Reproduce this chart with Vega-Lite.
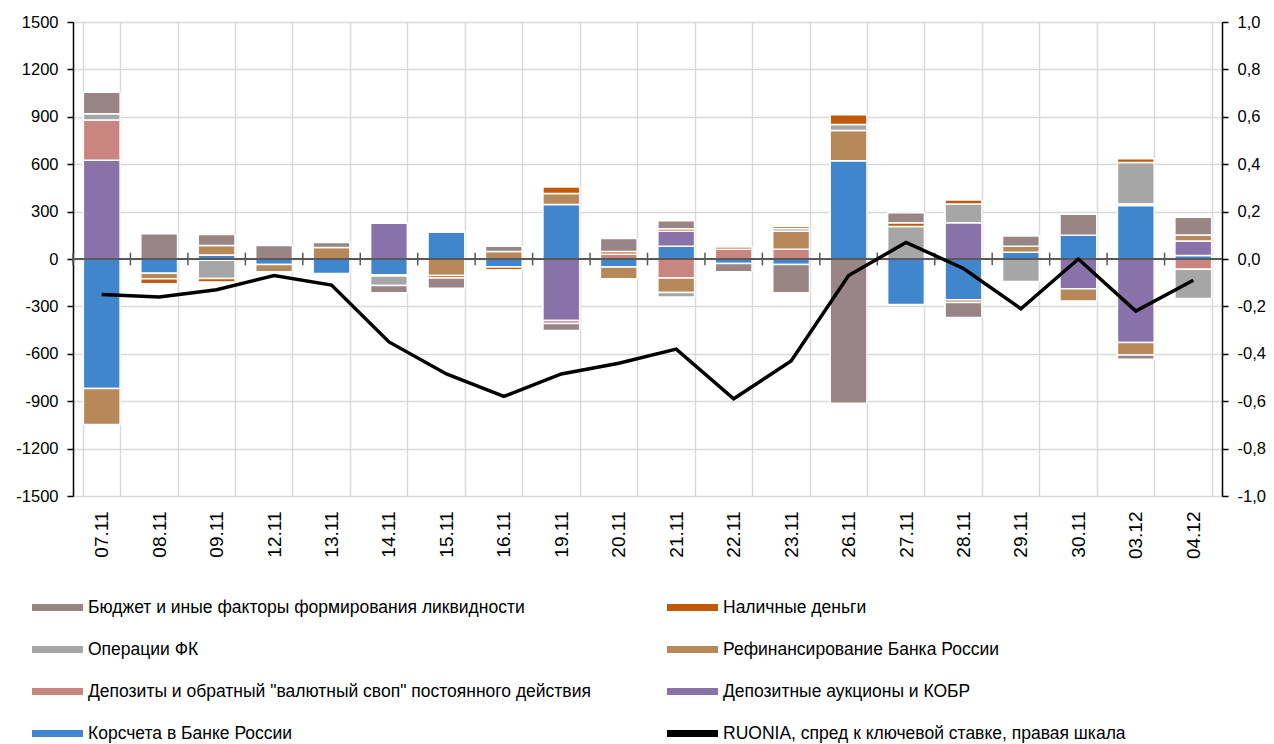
{
  "$schema": "https://vega.github.io/schema/vega-lite/v6.json",
  "width": 1149,
  "height": 474,
  "autosize": {"type": "none"},
  "padding": {"left": 73, "top": 22, "right": 52, "bottom": 248},
  "background": "white",
  "config": {
    "font": "Liberation Sans",
    "view": {"stroke": null},
    "axis": {"labelFont": "Liberation Sans", "labelFontSize": 16, "labelColor": "#000000", "titleFont": "Liberation Sans"},
    "legend": {"labelFont": "Liberation Sans", "labelFontSize": 17.5, "labelColor": "#000000"}
  },
  "datasets": {
    "flows": [
      {"date": "07.11", "series": "Корсчета в Банке России", "value": -820},
      {"date": "07.11", "series": "Депозитные аукционы и КОБР", "value": 625},
      {"date": "07.11", "series": "Депозиты и обратный \"валютный своп\" постоянного действия", "value": 255},
      {"date": "07.11", "series": "Рефинансирование Банка России", "value": -228},
      {"date": "07.11", "series": "Операции ФК", "value": 40},
      {"date": "07.11", "series": "Бюджет и иные факторы формирования ликвидности", "value": 135},
      {"date": "08.11", "series": "Бюджет и иные факторы формирования ликвидности", "value": 160},
      {"date": "08.11", "series": "Корсчета в Банке России", "value": -90},
      {"date": "08.11", "series": "Рефинансирование Банка России", "value": -35},
      {"date": "08.11", "series": "Наличные деньги", "value": -32},
      {"date": "09.11", "series": "Корсчета в Банке России", "value": 25},
      {"date": "09.11", "series": "Рефинансирование Банка России", "value": 60},
      {"date": "09.11", "series": "Бюджет и иные факторы формирования ликвидности", "value": 70},
      {"date": "09.11", "series": "Депозиты и обратный \"валютный своп\" постоянного действия", "value": -8},
      {"date": "09.11", "series": "Операции ФК", "value": -115},
      {"date": "09.11", "series": "Наличные деньги", "value": -22},
      {"date": "12.11", "series": "Бюджет и иные факторы формирования ликвидности", "value": 85},
      {"date": "12.11", "series": "Корсчета в Банке России", "value": -35},
      {"date": "12.11", "series": "Рефинансирование Банка России", "value": -45},
      {"date": "13.11", "series": "Рефинансирование Банка России", "value": 72},
      {"date": "13.11", "series": "Бюджет и иные факторы формирования ликвидности", "value": 33},
      {"date": "13.11", "series": "Корсчета в Банке России", "value": -92},
      {"date": "14.11", "series": "Депозитные аукционы и КОБР", "value": 226},
      {"date": "14.11", "series": "Корсчета в Банке России", "value": -100},
      {"date": "14.11", "series": "Депозиты и обратный \"валютный своп\" постоянного действия", "value": -8},
      {"date": "14.11", "series": "Операции ФК", "value": -60},
      {"date": "14.11", "series": "Бюджет и иные факторы формирования ликвидности", "value": -45},
      {"date": "15.11", "series": "Корсчета в Банке России", "value": 170},
      {"date": "15.11", "series": "Депозиты и обратный \"валютный своп\" постоянного действия", "value": 8},
      {"date": "15.11", "series": "Рефинансирование Банка России", "value": -105},
      {"date": "15.11", "series": "Наличные деньги", "value": -15},
      {"date": "15.11", "series": "Бюджет и иные факторы формирования ликвидности", "value": -65},
      {"date": "16.11", "series": "Рефинансирование Банка России", "value": 48},
      {"date": "16.11", "series": "Бюджет и иные факторы формирования ликвидности", "value": 32},
      {"date": "16.11", "series": "Корсчета в Банке России", "value": -50},
      {"date": "16.11", "series": "Наличные деньги", "value": -18},
      {"date": "19.11", "series": "Корсчета в Банке России", "value": 345},
      {"date": "19.11", "series": "Рефинансирование Банка России", "value": 70},
      {"date": "19.11", "series": "Наличные деньги", "value": 40},
      {"date": "19.11", "series": "Депозитные аукционы и КОБР", "value": -390},
      {"date": "19.11", "series": "Депозиты и обратный \"валютный своп\" постоянного действия", "value": -18},
      {"date": "19.11", "series": "Бюджет и иные факторы формирования ликвидности", "value": -45},
      {"date": "20.11", "series": "Депозиты и обратный \"валютный своп\" постоянного действия", "value": 30},
      {"date": "20.11", "series": "Наличные деньги", "value": 18},
      {"date": "20.11", "series": "Бюджет и иные факторы формирования ликвидности", "value": 82},
      {"date": "20.11", "series": "Корсчета в Банке России", "value": -50},
      {"date": "20.11", "series": "Рефинансирование Банка России", "value": -75},
      {"date": "21.11", "series": "Корсчета в Банке России", "value": 80},
      {"date": "21.11", "series": "Депозитные аукционы и КОБР", "value": 95},
      {"date": "21.11", "series": "Наличные деньги", "value": 17},
      {"date": "21.11", "series": "Бюджет и иные факторы формирования ликвидности", "value": 50},
      {"date": "21.11", "series": "Депозиты и обратный \"валютный своп\" постоянного действия", "value": -120},
      {"date": "21.11", "series": "Рефинансирование Банка России", "value": -92},
      {"date": "21.11", "series": "Операции ФК", "value": -28},
      {"date": "22.11", "series": "Депозиты и обратный \"валютный своп\" постоянного действия", "value": 62},
      {"date": "22.11", "series": "Наличные деньги", "value": 14},
      {"date": "22.11", "series": "Корсчета в Банке России", "value": -28},
      {"date": "22.11", "series": "Бюджет и иные факторы формирования ликвидности", "value": -52},
      {"date": "23.11", "series": "Депозиты и обратный \"валютный своп\" постоянного действия", "value": 62},
      {"date": "23.11", "series": "Рефинансирование Банка России", "value": 113},
      {"date": "23.11", "series": "Операции ФК", "value": 18},
      {"date": "23.11", "series": "Наличные деньги", "value": 14},
      {"date": "23.11", "series": "Корсчета в Банке России", "value": -35},
      {"date": "23.11", "series": "Бюджет и иные факторы формирования ликвидности", "value": -178},
      {"date": "26.11", "series": "Корсчета в Банке России", "value": 622},
      {"date": "26.11", "series": "Рефинансирование Банка России", "value": 192},
      {"date": "26.11", "series": "Операции ФК", "value": 37},
      {"date": "26.11", "series": "Наличные деньги", "value": 62},
      {"date": "26.11", "series": "Бюджет и иные факторы формирования ликвидности", "value": -913},
      {"date": "27.11", "series": "Операции ФК", "value": 205},
      {"date": "27.11", "series": "Наличные деньги", "value": 25},
      {"date": "27.11", "series": "Бюджет и иные факторы формирования ликвидности", "value": 63},
      {"date": "27.11", "series": "Корсчета в Банке России", "value": -288},
      {"date": "28.11", "series": "Депозитные аукционы и КОБР", "value": 230},
      {"date": "28.11", "series": "Операции ФК", "value": 118},
      {"date": "28.11", "series": "Наличные деньги", "value": 25},
      {"date": "28.11", "series": "Корсчета в Банке России", "value": -258},
      {"date": "28.11", "series": "Рефинансирование Банка России", "value": -18},
      {"date": "28.11", "series": "Бюджет и иные факторы формирования ликвидности", "value": -95},
      {"date": "29.11", "series": "Корсчета в Банке России", "value": 42},
      {"date": "29.11", "series": "Рефинансирование Банка России", "value": 38},
      {"date": "29.11", "series": "Бюджет и иные факторы формирования ликвидности", "value": 66},
      {"date": "29.11", "series": "Операции ФК", "value": -143},
      {"date": "30.11", "series": "Корсчета в Банке России", "value": 150},
      {"date": "30.11", "series": "Бюджет и иные факторы формирования ликвидности", "value": 133},
      {"date": "30.11", "series": "Депозитные аукционы и КОБР", "value": -188},
      {"date": "30.11", "series": "Рефинансирование Банка России", "value": -78},
      {"date": "03.12", "series": "Корсчета в Банке России", "value": 338},
      {"date": "03.12", "series": "Депозиты и обратный \"валютный своп\" постоянного действия", "value": 12},
      {"date": "03.12", "series": "Операции ФК", "value": 260},
      {"date": "03.12", "series": "Наличные деньги", "value": 25},
      {"date": "03.12", "series": "Депозитные аукционы и КОБР", "value": -528},
      {"date": "03.12", "series": "Рефинансирование Банка России", "value": -80},
      {"date": "03.12", "series": "Бюджет и иные факторы формирования ликвидности", "value": -27},
      {"date": "04.12", "series": "Корсчета в Банке России", "value": 22},
      {"date": "04.12", "series": "Депозитные аукционы и КОБР", "value": 92},
      {"date": "04.12", "series": "Рефинансирование Банка России", "value": 38},
      {"date": "04.12", "series": "Бюджет и иные факторы формирования ликвидности", "value": 112},
      {"date": "04.12", "series": "Депозиты и обратный \"валютный своп\" постоянного действия", "value": -65},
      {"date": "04.12", "series": "Операции ФК", "value": -185}
    ],
    "ruonia": [
      {"date": "07.11", "spread": -0.15},
      {"date": "08.11", "spread": -0.16},
      {"date": "09.11", "spread": -0.13},
      {"date": "12.11", "spread": -0.07},
      {"date": "13.11", "spread": -0.11},
      {"date": "14.11", "spread": -0.35},
      {"date": "15.11", "spread": -0.485},
      {"date": "16.11", "spread": -0.58},
      {"date": "19.11", "spread": -0.485},
      {"date": "20.11", "spread": -0.44},
      {"date": "21.11", "spread": -0.38},
      {"date": "22.11", "spread": -0.59},
      {"date": "23.11", "spread": -0.43},
      {"date": "26.11", "spread": -0.07},
      {"date": "27.11", "spread": 0.07},
      {"date": "28.11", "spread": -0.04},
      {"date": "29.11", "spread": -0.21},
      {"date": "30.11", "spread": 0.0},
      {"date": "03.12", "spread": -0.22},
      {"date": "04.12", "spread": -0.09}
    ]
  },
  "layer": [
    {
      "layer": [
        {
          "data": {"name": "flows"},
          "transform": [
            {"calculate": "indexof(['Корсчета в Банке России','Депозитные аукционы и КОБР','Депозиты и обратный \"валютный своп\" постоянного действия','Рефинансирование Банка России','Операции ФК','Наличные деньги','Бюджет и иные факторы формирования ликвидности'], datum.series)", "as": "stackOrder"}
          ],
          "mark": {"type": "bar", "stroke": "#ffffff", "strokeWidth": 1.5},
          "encoding": {
            "x": {
              "field": "date", "type": "nominal",
              "scale": {"domain": ["07.11","08.11","09.11","12.11","13.11","14.11","15.11","16.11","19.11","20.11","21.11","22.11","23.11","26.11","27.11","28.11","29.11","30.11","03.12","04.12"], "paddingInner": 0.36, "paddingOuter": 0.18},
              "axis": {"title": null, "labelAngle": -90, "ticks": false, "domain": false, "grid": true, "gridColor": "#D9D9D9", "gridWidth": 1.5, "tickBand": "extent", "labelPadding": 15, "labelFontSize": 19}
            },
            "y": {
              "field": "value", "type": "quantitative", "stack": "zero",
              "scale": {"domain": [-1500, 1500], "nice": false, "zero": false},
              "axis": {"title": null, "values": [-1500,-1200,-900,-600,-300,0,300,600,900,1200,1500], "labelExpr": "'' + datum.value", "grid": true, "gridColor": "#D9D9D9", "gridWidth": 1.5, "domainColor": "#000000", "domainWidth": 1.5, "tickColor": "#000000", "tickWidth": 1.5, "tickSize": 6, "labelPadding": 9, "labelFontSize": 16.5}
            },
            "color": {
              "field": "series", "type": "nominal",
              "scale": {
                "domain": ["Бюджет и иные факторы формирования ликвидности","Наличные деньги","Операции ФК","Рефинансирование Банка России","Депозиты и обратный \"валютный своп\" постоянного действия","Депозитные аукционы и КОБР","Корсчета в Банке России","RUONIA, спред к ключевой ставке, правая шкала"],
                "range": ["#998585","#C05A0A","#A6A6A6","#B7895A","#C98580","#8971A9","#4186CD","#000000"]
              },
              "legend": {
                "title": null, "orient": "none", "legendX": -41, "legendY": 560, "columns": 2, "direction": "horizontal",
                "columnPadding": 76, "rowPadding": 8, "labelLimit": 700, "labelOffset": 5,
                "symbolType": "M-1,-0.14L1,-0.14L1,0.14L-1,0.14Z", "symbolSize": 2601, "symbolStrokeWidth": 0,
                "encode": {"symbols": {"update": {"shape": {"signal": "indexof(datum.value, 'RUONIA') == 0 ? 'M-1,-0.07L1,-0.07L1,0.07L-1,0.07Z' : 'M-1,-0.14L1,-0.14L1,0.14L-1,0.14Z'"}}}}
              }
            },
            "order": {"field": "stackOrder", "type": "quantitative", "sort": "ascending"}
          }
        },
        {
          "data": {"values": [{}]},
          "mark": {"type": "rule", "color": "#595959", "strokeWidth": 2},
          "encoding": {"y": {"datum": 0}}
        },
        {
          "data": {"name": "ruonia"},
          "mark": {"type": "rule", "color": "#595959", "strokeWidth": 1.5},
          "encoding": {
            "x": {"field": "date", "type": "nominal", "bandPosition": -0.28125},
            "y": {"datum": -40},
            "y2": {"datum": 40}
          }
        }
      ]
    },
    {
      "data": {"name": "ruonia"},
      "mark": {"type": "line", "strokeWidth": 3.5, "strokeJoin": "miter", "strokeCap": "butt"},
      "encoding": {
        "x": {"field": "date", "type": "nominal"},
        "y": {
          "field": "spread", "type": "quantitative",
          "scale": {"domain": [-1, 1], "nice": false, "zero": false},
          "axis": {"title": null, "orient": "right", "values": [-1,-0.8,-0.6,-0.4,-0.2,0,0.2,0.4,0.6,0.8,1], "labelExpr": "replace(replace(format(datum.value, '.1f'), '.', ','), '−', '-')", "grid": false, "domainColor": "#000000", "domainWidth": 1.5, "tickColor": "#000000", "tickWidth": 1.5, "tickSize": 6, "labelPadding": 9, "labelFontSize": 16.5}
        },
        "color": {"datum": "RUONIA, спред к ключевой ставке, правая шкала"}
      }
    }
  ],
  "resolve": {"scale": {"y": "independent"}}
}
